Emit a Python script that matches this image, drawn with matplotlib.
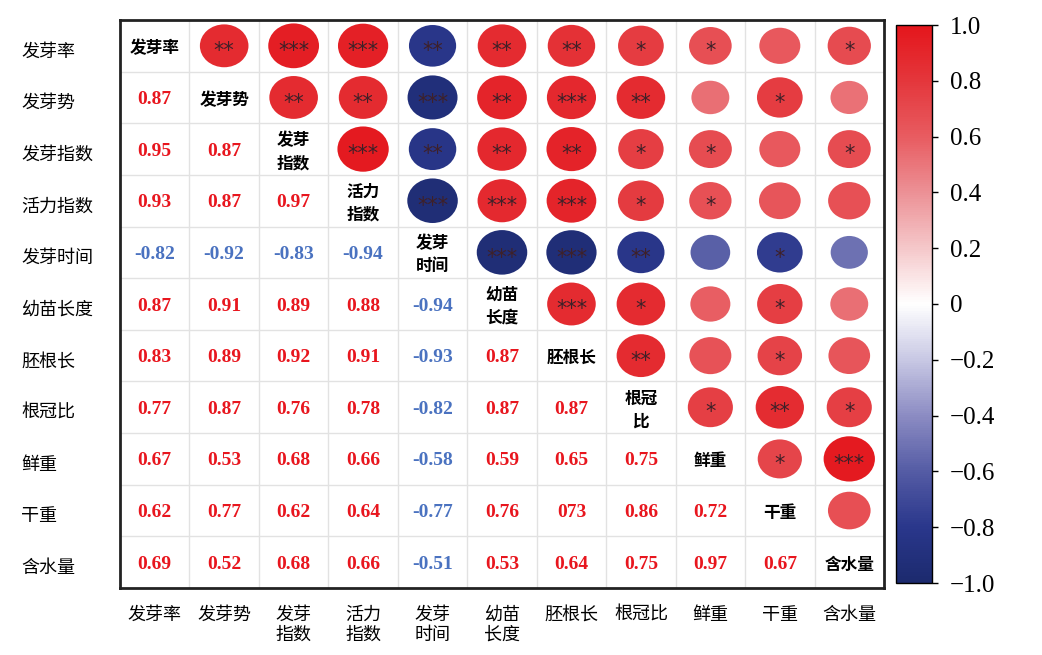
import numpy as np
import matplotlib
matplotlib.use("Agg")
import matplotlib.pyplot as plt
from matplotlib.patches import Ellipse
from matplotlib.colors import LinearSegmentedColormap, Normalize
from matplotlib.cm import ScalarMappable

plt.rcParams['font.family'] = ['Noto Sans CJK SC', 'DejaVu Sans']
plt.rcParams['axes.unicode_minus'] = True

# ---------------------- 数据 ----------------------
names = ["发芽率", "发芽势", "发芽指数", "活力指数", "发芽时间", "幼苗长度",
         "胚根长", "根冠比", "鲜重", "干重", "含水量"]
# 对角线上的标签（换行显示）
diag_labels = ["发芽率", "发芽势", "发芽\n指数", "活力\n指数", "发芽\n时间", "幼苗\n长度",
               "胚根长", "根冠\n比", "鲜重", "干重", "含水量"]
# x 轴标签
x_labels = ["发芽率", "发芽势", "发芽\n指数", "活力\n指数", "发芽\n时间", "幼苗\n长度",
            "胚根长", "根冠比", "鲜重", "干重", "含水量"]

# 下三角相关系数（第 i 行，前 i 列）
lower = [
    [],
    [0.87],
    [0.95, 0.87],
    [0.93, 0.87, 0.97],
    [-0.82, -0.92, -0.83, -0.94],
    [0.87, 0.91, 0.89, 0.88, -0.94],
    [0.83, 0.89, 0.92, 0.91, -0.93, 0.87],
    [0.77, 0.87, 0.76, 0.78, -0.82, 0.87, 0.87],
    [0.67, 0.53, 0.68, 0.66, -0.58, 0.59, 0.65, 0.75],
    [0.62, 0.77, 0.62, 0.64, -0.77, 0.76, 0.73, 0.86, 0.72],
    [0.69, 0.52, 0.68, 0.66, -0.51, 0.53, 0.64, 0.75, 0.97, 0.67],
]
# 原图中的笔误保持不变
label_fix = {(9, 6): "073"}

# 上三角显著性标记（第 i 行，从第 i+1 列开始）
stars = [
    ["**", "***", "***", "**", "**", "**", "*", "*", "", "*"],
    ["**", "**", "***", "**", "***", "**", "", "*", ""],
    ["***", "**", "**", "**", "*", "*", "", "*"],
    ["***", "***", "***", "*", "*", "", ""],
    ["***", "***", "**", "", "*", ""],
    ["***", "*", "", "*", ""],
    ["**", "", "*", ""],
    ["*", "**", "*"],
    ["*", "***"],
    [""],
    [],
]

n = len(names)
corr = np.eye(n)
for i, row in enumerate(lower):
    for j, v in enumerate(row):
        corr[i, j] = v
        corr[j, i] = v

# ---------------------- 颜色 ----------------------
cmap = LinearSegmentedColormap.from_list("rb", [
    (0.0, "#1C2A6E"), (0.1, "#2A378C"), (0.2, "#555CA5"), (0.3, "#8C8CC3"),
    (0.4, "#C8C8E4"), (0.5, "#FFFFFF"), (0.6, "#F5C8CA"), (0.7, "#EC9196"),
    (0.8, "#E85C61"), (0.9, "#E4373C"), (1.0, "#E4161C"),
])
norm = Normalize(-1, 1)

# ---------------------- 绘图 ----------------------
fig = plt.figure(figsize=(10.42, 6.55), dpi=100)
ax = fig.add_axes([120 / 1042, 1 - 588 / 655, 764 / 1042, 568 / 655])
ax.set_xlim(-0.5, n - 0.5)
ax.set_ylim(n - 0.5, -0.5)

# 网格线
for k in range(1, n):
    ax.axvline(k - 0.5, color="#E2E2E2", lw=1, zorder=0)
    ax.axhline(k - 0.5, color="#E2E2E2", lw=1, zorder=0)

for i in range(n):
    for j in range(n):
        r = corr[i, j]
        if i == j:
            ax.text(j, i + 0.05, diag_labels[i], ha="center", va="center", fontsize=12,
                    fontweight="bold", color="black", linespacing=1.35)
        elif j > i:
            s = np.sqrt(abs(r))
            ax.add_patch(Ellipse((j, i), 0.75 * s, 0.89 * s,
                                 facecolor=cmap(norm(r)), edgecolor="none", zorder=2))
            st = stars[i][j - i - 1]
            if st:
                ax.text(j, i + 0.1, st, ha="center", va="center", fontsize=15,
                        color="#3E2028", family="DejaVu Sans", zorder=3)
        else:
            txt = label_fix.get((i, j), f"{r:.2f}")
            ax.text(j, i + 0.04, txt, ha="center", va="center", fontsize=14,
                    fontweight="bold", family="Liberation Serif",
                    color="#E8161E" if r > 0 else "#4A72C0")

ax.set_xticks(range(n))
ax.set_xticklabels(x_labels, fontsize=13, va="top", linespacing=1.15)
ax.set_yticks(np.arange(n) + 0.07)
ax.set_yticklabels(names, fontsize=13)
ax.tick_params(length=0)
ax.tick_params(axis="x", pad=13)
ax.tick_params(axis="y", pad=71)
for lab in ax.get_yticklabels():
    lab.set_horizontalalignment("left")
for sp in ax.spines.values():
    sp.set_linewidth(2)
    sp.set_color("#222222")

# 颜色条
cax = fig.add_axes([896 / 1042, 1 - 583 / 655, 36 / 1042, 558 / 655])
cb = fig.colorbar(ScalarMappable(norm=norm, cmap=cmap), cax=cax)
ticks = np.round(np.arange(-1, 1.01, 0.2), 1)
cb.set_ticks(ticks)
cb.set_ticklabels(["0" if abs(t) < 1e-9 else f"{t:.1f}".replace("-", "\u2212") for t in ticks])
cax.tick_params(length=4, width=1, pad=9, labelsize=18)
for lab in cax.get_yticklabels():
    lab.set_family("Liberation Serif")
cb.outline.set_linewidth(1)

plt.savefig("out.png", dpi=100)
plt.close()
